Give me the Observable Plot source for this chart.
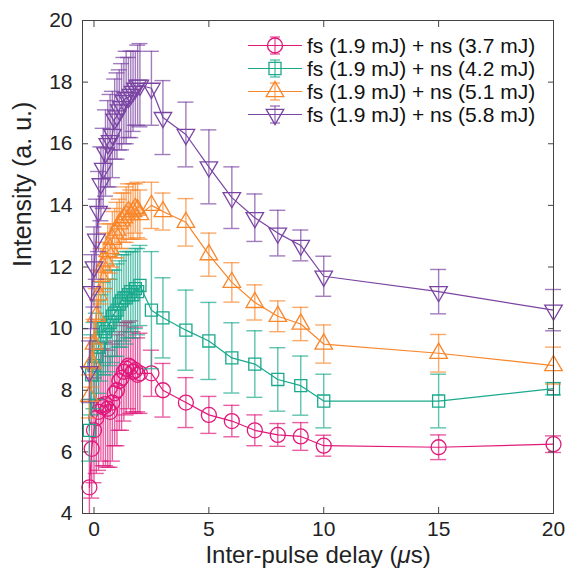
<!DOCTYPE html>
<html><head><meta charset="utf-8">
<script src="https://cdn.jsdelivr.net/npm/d3@7"></script>
<script src="https://cdn.jsdelivr.net/npm/@observablehq/plot@0.6"></script>
<style>
body{margin:0;background:#fff;font-family:"Liberation Sans",Arial,Helvetica,sans-serif;}
#wrap{position:relative;width:568px;height:575px;}
#legend{position:absolute;left:246px;top:34px;font-size:21px;color:#111;}
.row{display:flex;align-items:center;height:23px;white-space:nowrap;}
.row svg{margin-right:5px;overflow:visible;}
</style></head><body><div id="wrap"><div id="legend"></div></div>
<script>
const delays = [-0.2,-0.1,0,0.1,0.2,0.3,0.4,0.5,0.6,0.7,0.8,0.9,1.0,1.1,1.2,1.3,1.4,1.5,1.6,1.7,1.8,1.9,2.0,2.5,3,4,5,6,7,8,9,10,15,20];

const seriesLabels = ["fs (1.9 mJ) + ns (3.7 mJ)","fs (1.9 mJ) + ns (4.2 mJ)","fs (1.9 mJ) + ns (5.1 mJ)","fs (1.9 mJ) + ns (5.8 mJ)"];
const seriesColors = ["#e0197b","#19a98c","#f8862b","#7a44a3"];

const values37 = [4.85,6.1,6.7,7.1,7.3,7.5,7.45,7.55,7.4,7.3,7.6,7.9,8.0,8.3,8.4,8.6,8.7,8.8,8.75,8.6,8.65,8.5,8.55, 8.55,8.0,7.6,7.2,7.0,6.7,6.55,6.5,6.2,6.15,6.25];
const errors37 = [1.5,1.6,1.7,1.8,1.9,1.8,1.9,2.0,1.9,1.8,1.9,1.7,1.8,1.6,1.7,1.6,1.5,1.4,1.5,1.3,1.4,1.2,1.3, 0.75,0.87,0.81,0.6,0.51,0.5,0.37,0.45,0.34,0.4,0.27];

const values42 = [6.7,8.5,8.8,9.1,9.4,9.7,10.0,9.9,10.1,10.2,10.4,10.5,10.6,10.8,10.9,11.0,11.0,11.1,11.2,11.1,11.3,11.2,11.4, 10.6,10.35,9.95,9.6,9.05,8.85,8.35,8.15,7.65,7.65,8.05];
const errors42 = [1.0,1.3,1.4,1.4,1.5,1.4,1.5,1.4,1.5,1.4,1.5,1.4,1.5,1.4,1.5,1.4,1.5,1.4,1.3,1.4,1.3,1.4,1.3, 1.9,1.3,1.3,1.25,1.14,1.08,1.03,0.96,0.87,0.87,0.2];

const values51 = [7.8,8.9,9.5,10.4,11.1,11.7,12.0,12.2,12.5,12.6,12.9,13.1,13.2,13.4,13.5,13.6,13.7,13.8,13.7,13.8,13.9,13.85,13.7, 14.0,13.8,13.45,12.4,11.5,10.85,10.4,10.15,9.5,9.2,8.8];
const errors51 = [0.7,0.8,0.8,0.9,0.8,0.9,0.8,0.9,0.9,0.8,0.9,0.8,0.9,0.8,0.9,0.8,0.9,0.9,0.8,0.9,0.8,0.9,0.8, 0.75,0.6,0.77,0.7,0.64,0.57,0.5,0.54,0.62,0.61,0.6];

const values58 = [8.6,11.2,12.0,12.9,13.8,14.7,15.2,15.7,16.0,16.1,16.3,16.8,16.9,17.1,17.2,17.4,17.5,17.5,17.6,17.7,17.8,17.9,17.9, 17.8,16.85,16.3,15.25,14.25,13.6,13.1,12.7,11.7,11.2,10.6];
const errors58 = [1.0,1.2,1.3,1.3,1.3,1.2,1.3,1.4,1.4,1.5,1.4,1.3,1.4,1.3,1.4,1.4,1.5,1.3,1.4,1.3,1.2,1.3,1.35, 1.2,1.2,1.05,1.2,1.0,0.77,0.74,0.5,0.65,0.72,0.67];

const xDomain = [-0.5, 20];
const yDomain = [4, 20];
const xTicks = [0,5,10,15,20];
const yTicks = [4,6,8,10,12,14,16,18,20];
const xLabel = "Inter-pulse delay (μs)";
const yLabel = "Intensity (a. u.)";

const values = [values37, values42, values51, values58];
const errors = [errors37, errors42, errors51, errors58];

const triUp = {draw(ctx, size){ const s = Math.sqrt(size*4/Math.sqrt(3)); const h = s*Math.sqrt(3)/2;
  ctx.moveTo(0,-2*h/3); ctx.lineTo(s/2,h/3); ctx.lineTo(-s/2,h/3); ctx.closePath(); }};
const triDown = {draw(ctx, size){ const s = Math.sqrt(size*4/Math.sqrt(3)); const h = s*Math.sqrt(3)/2;
  ctx.moveTo(0,2*h/3); ctx.lineTo(s/2,-h/3); ctx.lineTo(-s/2,-h/3); ctx.closePath(); }};
const seriesSymbols = [d3.symbolCircle, d3.symbolSquare, triUp, triDown];
const seriesR = [7.5, 6.8, 6.5, 6.5];

const marks = [];
seriesLabels.forEach((label, i) => {
  const data = delays.map((x, j) => ({x, y: values[i][j], e: errors[i][j]}));
  const c = seriesColors[i];
  const eb = {stroke: c, strokeOpacity: 0.7, strokeWidth: 1.4};
  marks.push(
    Plot.ruleX(data, {x: "x", y1: d => d.y - d.e, y2: d => d.y + d.e, ...eb, clip: true}),
    Plot.ruleY(data, {x1: "x", x2: "x", y: d => d.y + d.e, insetLeft: -8, insetRight: -8, ...eb,
      filter: d => d.y + d.e <= yDomain[1]}),
    Plot.ruleY(data, {x1: "x", x2: "x", y: d => d.y - d.e, insetLeft: -8, insetRight: -8, ...eb,
      filter: d => d.y - d.e >= yDomain[0]}),
    Plot.line(data, {x: "x", y: "y", stroke: c, strokeWidth: 1.2}),
    Plot.dot(data, {x: "x", y: "y", symbol: seriesSymbols[i], r: seriesR[i], stroke: c, strokeWidth: 1.3, fill: "none"})
  );
});

const axisColor = "#444";
marks.push(
  Plot.frame({stroke: axisColor, strokeWidth: 1}),
  Plot.axisX({ticks: xTicks, tickSize: -6, tickFormat: () => "", stroke: axisColor, label: null}),
  Plot.axisX({anchor: "top", ticks: xTicks, tickSize: -6, tickFormat: () => "", stroke: axisColor, label: null}),
  Plot.axisY({ticks: yTicks, tickSize: -6, tickFormat: () => "", stroke: axisColor, label: null}),
  Plot.axisY({anchor: "right", ticks: yTicks, tickSize: -6, tickFormat: () => "", stroke: axisColor, label: null}),
  Plot.axisX({ticks: xTicks, tickSize: 0, tickPadding: 8, fontSize: 21, fill: "#222", label: null}),
  Plot.axisY({ticks: yTicks, tickSize: 0, tickPadding: 10, fontSize: 21, fill: "#222", label: null}),
  Plot.text([xLabel], {text: d => d, frameAnchor: "bottom", dy: 49, fontSize: 24, fill: "#222"}),
  Plot.text([yLabel], {text: d => d, frameAnchor: "left", dx: -60, rotate: -90, fontSize: 25, fill: "#222"})
);

const chart = Plot.plot({
  width: 568, height: 575,
  marginLeft: 82, marginRight: 15, marginTop: 20, marginBottom: 62,
  style: {fontFamily: '"Liberation Sans", Arial, Helvetica, sans-serif', background: "#fff"},
  x: {domain: xDomain},
  y: {domain: yDomain},
  marks
});
chart.querySelectorAll("text").forEach(t => {
  if (t.textContent.includes("μ")) {
    const parts = t.textContent.split("μ");
    t.textContent = "";
    const ns = "http://www.w3.org/2000/svg";
    const a = document.createElementNS(ns, "tspan"); a.textContent = parts[0];
    const m = document.createElementNS(ns, "tspan"); m.textContent = "μ"; m.setAttribute("font-style", "italic");
    const b = document.createElementNS(ns, "tspan"); b.textContent = parts[1];
    t.append(a, m, b);
  }
});
document.getElementById("wrap").prepend(chart);

// legend
const legend = document.getElementById("legend");
seriesLabels.forEach((label, i) => {
  const row = document.createElement("div"); row.className = "row";
  const c = seriesColors[i];
  const size = Math.PI * seriesR[i] * seriesR[i];
  const path = d3.symbol(seriesSymbols[i], size)();
  row.innerHTML = `<svg width="56" height="23" viewBox="0 0 56 23">
    <line x1="2" x2="56" y1="11.5" y2="11.5" stroke="${c}" stroke-width="1.2"/>
    <line x1="29" x2="29" y1="3" y2="20" stroke="${c}" stroke-opacity="0.7" stroke-width="1.4"/>
    <line x1="24" x2="34" y1="3" y2="3" stroke="${c}" stroke-opacity="0.7" stroke-width="1.4"/>
    <line x1="24" x2="34" y1="20" y2="20" stroke="${c}" stroke-opacity="0.7" stroke-width="1.4"/>
    <path d="${path}" transform="translate(29,11.5)" fill="none" stroke="${c}" stroke-width="1.3"/>
  </svg><span>${label}</span>`;
  legend.append(row);
});
</script></body></html>
